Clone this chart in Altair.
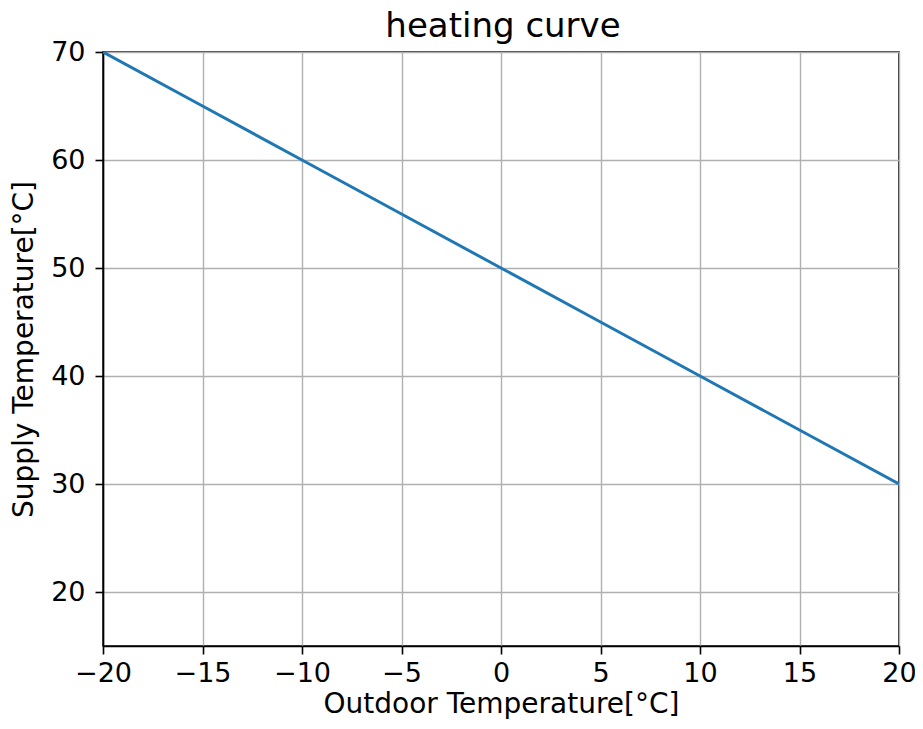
import altair as alt
import pandas as pd

outdoor = [-20, -15, -10, -5, 0, 5, 10, 15, 20]
supply = [70, 65, 60, 55, 50, 45, 40, 35, 30]
x_ticks = [-20, -15, -10, -5, 0, 5, 10, 15, 20]
y_ticks = [20, 30, 40, 50, 60, 70]
title_text = ["heating curve"]

df = pd.DataFrame({"outdoor": outdoor, "supply": supply})
tdf = pd.DataFrame({"t": title_text})

font = "DejaVu Sans"

line = alt.Chart(df).mark_line(color="#1f77b4", strokeWidth=3, clip=True).encode(
    x=alt.X("outdoor:Q",
            scale=alt.Scale(domain=[-20, 20], nice=False, zero=False),
            axis=alt.Axis(title="Outdoor Temperature[°C]", values=x_ticks,
                          format="d", labelFlush=False, labelPadding=6,
                          titlePadding=4)),
    y=alt.Y("supply:Q",
            scale=alt.Scale(domain=[15, 70], nice=False, zero=False),
            axis=alt.Axis(title="Supply Temperature[°C]", values=y_ticks,
                          format="d", labelFlush=False, labelPadding=10,
                          titlePadding=12)),
)

title = alt.Chart(tdf).mark_text(
    font=font, fontSize=34, color="black", align="center",
    baseline="alphabetic",
).encode(
    text="t:N",
    x=alt.value(400),
    y=alt.value(-15),
)

chart = alt.layer(line, title).properties(
    width=796,
    height=594,
    autosize=alt.AutoSizeParams(type="none"),
    padding={"left": 95, "top": 44, "right": 16, "bottom": 75},
).configure_axis(
    labelFont=font, titleFont=font, labelFontSize=27, titleFontSize=28,
    labelColor="black", titleColor="black", titleFontWeight="normal",
    domainColor="black", domainWidth=1.6, tickColor="black", tickWidth=1.6,
    tickSize=8, gridColor="#b0b0b0", gridWidth=1.4,
).configure_view(
    stroke="black", strokeWidth=1.6,
)

chart.save("out.html", embed_options={"renderer": "svg", "actions": False})
